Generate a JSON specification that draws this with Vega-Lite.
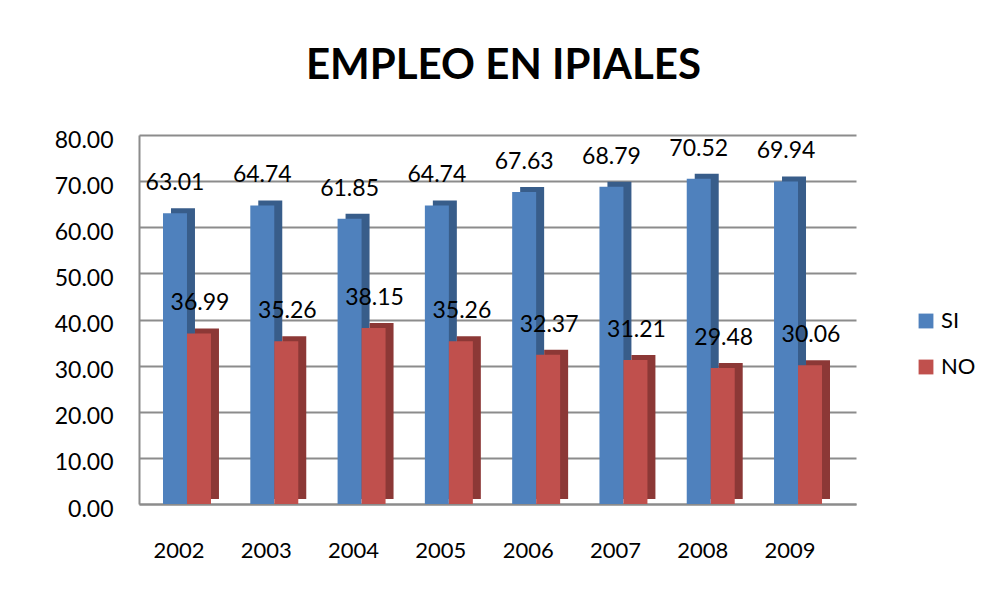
{
  "$schema": "https://vega.github.io/schema/vega-lite/v6.json",
  "autosize": {"type": "none"},
  "padding": {"left": 139, "top": 135, "right": 136, "bottom": 94},
  "width": 717,
  "height": 369,
  "background": "white",
  "title": {
    "text": "EMPLEO EN IPIALES",
    "font": "Lato",
    "fontSize": 42,
    "fontWeight": "bold",
    "color": "#000000",
    "anchor": "middle",
    "dx": 6,
    "offset": 41
  },
  "config": {
    "view": {"stroke": null},
    "font": "Lato"
  },
  "resolve": {"scale": {"xOffset": "independent"}},
  "data": {
    "values": [
      {"year": "2002", "series": "SI", "value": 63.01},
      {"year": "2002", "series": "NO", "value": 36.99},
      {"year": "2003", "series": "SI", "value": 64.74},
      {"year": "2003", "series": "NO", "value": 35.26},
      {"year": "2004", "series": "SI", "value": 61.85},
      {"year": "2004", "series": "NO", "value": 38.15},
      {"year": "2005", "series": "SI", "value": 64.74},
      {"year": "2005", "series": "NO", "value": 35.26},
      {"year": "2006", "series": "SI", "value": 67.63},
      {"year": "2006", "series": "NO", "value": 32.37},
      {"year": "2007", "series": "SI", "value": 68.79},
      {"year": "2007", "series": "NO", "value": 31.21},
      {"year": "2008", "series": "SI", "value": 70.52},
      {"year": "2008", "series": "NO", "value": 29.48},
      {"year": "2009", "series": "SI", "value": 69.94},
      {"year": "2009", "series": "NO", "value": 30.06}
    ]
  },
  "encoding": {
    "x": {
      "field": "year",
      "type": "nominal",
      "scale": {"paddingInner": 0.336, "paddingOuter": 0.275},
      "axis": {
        "title": null,
        "labelAngle": 0,
        "labelFont": "Lato",
        "labelFontSize": 22,
        "labelColor": "#000000",
        "labelPadding": 36,
        "labelOffset": -13,
        "ticks": false,
        "domainColor": "#8c8c8c",
        "domainWidth": 2
      }
    },
    "y": {
      "field": "value",
      "type": "quantitative",
      "scale": {"domain": [0, 80], "nice": false},
      "axis": {
        "title": null,
        "values": [0, 10, 20, 30, 40, 50, 60, 70, 80],
        "format": ".2f",
        "labelFont": "Lato",
        "labelFontSize": 23,
        "labelColor": "#000000",
        "labelPadding": 26,
        "labelOffset": 5,
        "ticks": false,
        "domainColor": "#8c8c8c",
        "domainWidth": 2,
        "gridColor": "#8c8c8c",
        "gridWidth": 2
      }
    }
  },
  "layer": [
    {
      "mark": {"type": "bar", "yOffset": -5, "y2Offset": -5},
      "encoding": {
        "xOffset": {"field": "series", "type": "nominal", "sort": ["SI", "NO"], "scale": {"paddingInner": 0, "paddingOuter": 0.208, "align": 0.8}},
        "fill": {
          "condition": {"test": "datum.series === 'SI'", "value": "#385D8A"},
          "value": "#8C3836"
        }
      }
    },
    {
      "mark": {"type": "bar"},
      "encoding": {
        "xOffset": {"field": "series", "type": "nominal", "sort": ["SI", "NO"], "scale": {"paddingInner": 0, "paddingOuter": 0.208, "align": 0}},
        "color": {
          "field": "series",
          "type": "nominal",
          "scale": {"domain": ["SI", "NO"], "range": ["#4F81BD", "#C0504D"]},
          "legend": {
            "title": null,
            "orient": "none",
            "legendX": 776,
            "legendY": 175,
            "symbolType": "square",
            "symbolSize": 220,
            "symbolStrokeWidth": 0,
            "labelFont": "Lato",
            "labelFontSize": 22,
            "labelColor": "#000000",
            "rowPadding": 24,
            "padding": 0
          }
        }
      }
    },
    {
      "transform": [{"filter": "datum.series === 'SI'"}],
      "mark": {"type": "text", "font": "Lato", "fontSize": 23, "color": "#000000", "baseline": "middle", "dy": -30},
      "encoding": {
        "x": {"field": "year", "type": "nominal", "bandPosition": 0.207},
        "text": {"field": "value", "type": "quantitative", "format": ".2f"}
      }
    },
    {
      "transform": [{"filter": "datum.series === 'NO'"}],
      "mark": {"type": "text", "font": "Lato", "fontSize": 23, "color": "#000000", "baseline": "middle", "dy": -30},
      "encoding": {
        "x": {"field": "year", "type": "nominal", "bandPosition": 0.638},
        "text": {"field": "value", "type": "quantitative", "format": ".2f"}
      }
    }
  ]
}
